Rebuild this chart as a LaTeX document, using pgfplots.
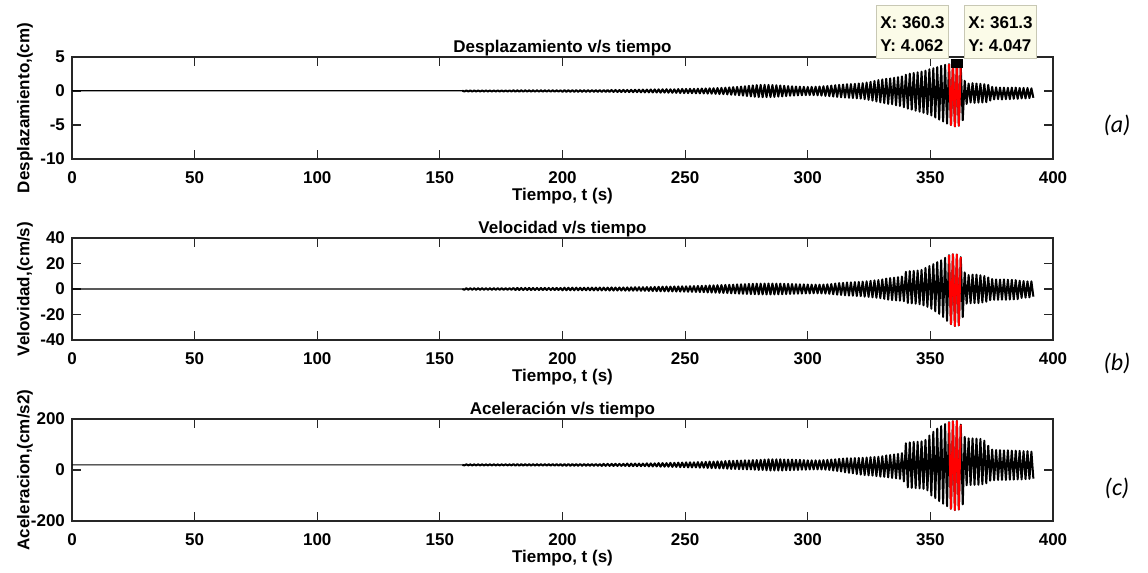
\documentclass[border=0pt]{standalone}
\usepackage{pgfplots}
\pgfplotsset{compat=1.18}
\usepackage{fontspec}
\setmainfont{Liberation Sans}
\newfontfamily\calib{Carlito}
\definecolor{axgray}{HTML}{262626}
\definecolor{tipfill}{HTML}{FBFBE8}
\definecolor{tipedge}{HTML}{C8C8B4}
\newcommand\lbl{\fontsize{8.5}{10}\selectfont\bfseries}

\pgfplotsset{
  every axis title shift=0pt,
  sig/.style={scale only axis, width=490.5pt, height=51pt, anchor=south west,
    xmin=0, xmax=400, xtick={0,50,...,400},
    axis line style={axgray, line width=0.6pt},
    every tick/.style={axgray, line width=0.6pt},
    major tick length=4.5pt, tick align=inside,
    tick label style={font=\lbl, /pgf/number format/assume math mode=true},
    xticklabel style={yshift=-3pt},
    title style={at={(axis description cs:0.5,1)}, anchor=base, yshift=2pt, font=\lbl},
    xlabel style={at={(axis description cs:0.5,0)}, anchor=base, yshift=-21pt, font=\lbl},
    ylabel style={at={(axis description cs:-0.0435,0.5)}, anchor=base, font=\lbl},
    xlabel={Tiempo, t (s)}, scaled ticks=false},
  flat/.style={black, line width=0.6pt, restrict x to domain=0:160.5},
  wave/.style={black, line width=1.0pt, line join=round, restrict x to domain=159:400},
  hot/.style={red, line width=1.0pt, line join=round}
}

\pgfplotstableread[row sep=\\]{
0 0.05\\ 159.2 0.05\\
160.0 -0.08\\ 160.8 0.08\\ 161.6 -0.08\\ 162.4 0.08\\ 163.2 -0.08\\ 164.0 0.08\\ 164.8 -0.08\\ 165.6 0.08\\ 166.4 -0.08\\ 167.2 0.08\\
168.0 -0.08\\ 168.8 0.08\\ 169.6 -0.08\\ 170.4 0.08\\ 171.2 -0.08\\ 172.0 0.08\\ 172.8 -0.08\\ 173.6 0.08\\ 174.4 -0.08\\ 175.2 0.08\\
176.0 -0.08\\ 176.8 0.08\\ 177.6 -0.08\\ 178.4 0.08\\ 179.2 -0.08\\ 180.0 0.1\\ 180.8 -0.1\\ 181.6 0.1\\ 182.4 -0.1\\ 183.2 0.1\\
184.0 -0.1\\ 184.8 0.1\\ 185.6 -0.1\\ 186.4 0.1\\ 187.2 -0.1\\ 188.0 0.1\\ 188.8 -0.1\\ 189.6 0.1\\ 190.4 -0.1\\ 191.2 0.1\\
192.0 -0.1\\ 192.8 0.1\\ 193.6 -0.1\\ 194.4 0.1\\ 195.2 -0.1\\ 196.0 0.1\\ 196.8 -0.1\\ 197.6 0.1\\ 198.4 -0.1\\ 199.2 0.1\\
200.0 -0.12\\ 200.8 0.12\\ 201.6 -0.12\\ 202.4 0.12\\ 203.2 -0.12\\ 204.0 0.12\\ 204.8 -0.12\\ 205.6 0.12\\ 206.4 -0.12\\ 207.2 0.12\\
208.0 -0.12\\ 208.8 0.12\\ 209.6 -0.12\\ 210.4 0.12\\ 211.2 -0.12\\ 212.0 0.13\\ 212.8 -0.13\\ 213.6 0.13\\ 214.4 -0.13\\ 215.2 0.13\\
216.0 -0.14\\ 216.8 0.14\\ 217.6 -0.14\\ 218.4 0.14\\ 219.2 -0.14\\
220.0 0.15\\ 220.8 -0.14\\ 221.6 0.15\\ 222.4 -0.15\\ 223.2 0.14\\
224.0 -0.15\\ 224.8 0.16\\ 225.6 -0.15\\ 226.4 0.15\\ 227.2 -0.16\\
228.0 0.17\\ 228.8 -0.18\\ 229.6 0.18\\ 230.4 -0.17\\ 231.2 0.19\\
232.0 -0.2\\ 232.8 0.2\\ 233.6 -0.21\\ 234.4 0.2\\ 235.2 -0.2\\
236.0 0.22\\ 236.8 -0.22\\ 237.6 0.23\\ 238.4 -0.22\\ 239.2 0.24\\
240.0 -0.25\\ 240.8 0.25\\ 241.6 -0.24\\ 242.4 0.26\\ 243.2 -0.25\\
244.0 0.25\\ 244.8 -0.26\\ 245.6 0.25\\ 246.4 -0.27\\ 247.2 0.28\\
248.0 -0.3\\ 248.8 0.3\\ 249.6 -0.31\\ 250.4 0.3\\ 251.2 -0.32\\
252.0 0.32\\ 252.8 -0.33\\ 253.6 0.32\\ 254.4 -0.34\\ 255.2 0.34\\
256.0 -0.35\\ 256.8 0.36\\ 257.6 -0.36\\ 258.4 0.37\\ 259.2 -0.38\\
260.0 0.4\\ 260.8 -0.4\\ 261.6 0.41\\ 262.4 -0.42\\ 263.2 0.43\\
264.0 -0.45\\ 264.8 0.46\\ 265.6 -0.47\\ 266.4 0.49\\ 267.2 -0.5\\
268.0 0.53\\ 268.8 -0.55\\ 269.6 0.57\\ 270.4 -0.58\\ 271.2 0.6\\
272.0 -0.63\\ 272.8 0.65\\ 273.6 -0.68\\ 274.4 0.7\\ 275.2 -0.74\\
276.0 0.77\\ 276.8 -0.8\\ 277.6 0.82\\ 278.4 -0.85\\ 279.2 0.87\\
280.0 -0.9\\ 280.8 0.9\\ 281.6 -0.92\\ 282.4 0.91\\ 283.2 -0.9\\
284.0 0.9\\ 284.8 -0.89\\ 285.6 0.88\\ 286.4 -0.87\\ 287.2 0.85\\
288.0 -0.83\\ 288.8 0.81\\ 289.6 -0.8\\ 290.4 0.77\\ 291.2 -0.75\\
292.0 0.72\\ 292.8 -0.7\\ 293.6 0.69\\ 294.4 -0.68\\ 295.2 0.66\\
296.0 -0.65\\ 296.8 0.64\\ 297.6 -0.63\\ 298.4 0.62\\ 299.2 -0.61\\
300.0 0.6\\ 300.8 -0.6\\ 301.6 0.61\\ 302.4 -0.62\\ 303.2 0.63\\
304.0 -0.64\\ 304.8 0.66\\ 305.6 -0.68\\ 306.4 0.7\\ 307.2 -0.72\\
308.0 0.74\\ 308.8 -0.77\\ 309.6 0.8\\ 310.4 -0.82\\ 311.2 0.85\\
312.0 -0.88\\ 312.8 0.9\\ 313.6 -0.93\\ 314.4 0.95\\ 315.2 -0.97\\
316.0 1.0\\ 316.8 -1.0\\ 317.6 1.02\\ 318.4 -1.04\\ 319.2 1.06\\
320.0 -1.08\\ 320.8 1.1\\ 321.6 -1.12\\ 322.4 1.15\\ 323.2 -1.2\\
324.0 1.25\\ 324.8 -1.3\\ 325.6 1.35\\ 326.4 -1.4\\ 327.2 1.47\\
328.0 -1.55\\ 328.8 1.6\\ 329.6 -1.67\\ 330.4 1.7\\ 331.2 -1.78\\
332.0 1.8\\ 332.8 -1.9\\ 333.6 1.85\\ 334.4 -1.95\\ 335.2 1.95\\
336.0 -2.1\\ 336.8 2.05\\ 337.6 -2.2\\ 338.4 2.15\\ 339.2 -2.4\\
340.0 2.4\\ 340.8 -2.6\\ 341.6 2.55\\ 342.4 -2.75\\ 343.2 2.65\\
344.0 -2.9\\ 344.8 2.75\\ 345.6 -3.05\\ 346.4 2.85\\ 347.2 -3.2\\
348.0 3.0\\ 348.8 -3.4\\ 349.6 3.2\\ 350.4 -3.6\\ 351.2 3.35\\
352.0 -3.9\\ 352.8 3.5\\ 353.6 -4.2\\ 354.4 3.7\\ 355.2 -4.5\\
356.0 3.85\\ 356.8 -4.8\\ 357.6 3.95\\ 358.4 -5.0\\ 359.2 4.0\\
360.0 -5.2\\ 360.8 4.06\\ 361.6 -5.1\\ 362.4 3.6\\ 363.2 -4.3\\
364.0 1.5\\ 364.8 -1.9\\ 365.6 1.1\\ 366.4 -1.7\\ 367.2 1.15\\
368.0 -1.75\\ 368.8 1.1\\ 369.6 -1.7\\ 370.4 1.05\\ 371.2 -1.7\\
372.0 1.0\\ 372.8 -1.65\\ 373.6 0.9\\ 374.4 -1.4\\ 375.2 0.6\\
376.0 -1.25\\ 376.8 0.55\\ 377.6 -1.2\\ 378.4 0.5\\ 379.2 -1.25\\
380.0 0.5\\ 380.8 -1.2\\ 381.6 0.48\\ 382.4 -1.2\\ 383.2 0.5\\
384.0 -1.15\\ 384.8 0.5\\ 385.6 -1.15\\ 386.4 0.45\\ 387.2 -1.1\\
388.0 0.45\\ 388.8 -1.1\\ 389.6 0.45\\ 390.4 -1.05\\ 391.2 0.4\\
392.0 -1.0\\
}\disp

\pgfplotstableread[row sep=\\]{
357.6 3.95\\ 358.4 -5.0\\ 359.2 4.0\\ 360.0 -5.2\\ 360.8 4.06\\ 361.6 -5.1\\ 362.4 3.6\\
}\disphot

\pgfplotstableread[row sep=\\]{
0 0\\ 159.2 0\\
160.0 -0.6\\ 160.8 0.6\\ 161.6 -0.6\\ 162.4 0.6\\ 163.2 -0.6\\ 164.0 0.6\\ 164.8 -0.6\\ 165.6 0.6\\ 166.4 -0.6\\ 167.2 0.6\\
168.0 -0.6\\ 168.8 0.6\\ 169.6 -0.6\\ 170.4 0.6\\ 171.2 -0.6\\ 172.0 0.6\\ 172.8 -0.6\\ 173.6 0.6\\ 174.4 -0.6\\ 175.2 0.6\\
176.0 -0.6\\ 176.8 0.6\\ 177.6 -0.6\\ 178.4 0.6\\ 179.2 -0.6\\ 180.0 0.8\\ 180.8 -0.8\\ 181.6 0.8\\ 182.4 -0.8\\ 183.2 0.8\\
184.0 -0.8\\ 184.8 0.8\\ 185.6 -0.8\\ 186.4 0.8\\ 187.2 -0.8\\ 188.0 0.8\\ 188.8 -0.8\\ 189.6 0.8\\ 190.4 -0.8\\ 191.2 0.8\\
192.0 -0.8\\ 192.8 0.8\\ 193.6 -0.8\\ 194.4 0.8\\ 195.2 -0.8\\ 196.0 0.8\\ 196.8 -0.8\\ 197.6 0.8\\ 198.4 -0.8\\ 199.2 0.8\\
200.0 -1.0\\ 200.8 1.0\\ 201.6 -1.0\\ 202.4 1.0\\ 203.2 -1.0\\ 204.0 1.0\\ 204.8 -1.0\\ 205.6 1.0\\ 206.4 -1.0\\ 207.2 1.0\\
208.0 -1.0\\ 208.8 1.0\\ 209.6 -1.0\\ 210.4 1.0\\ 211.2 -1.0\\ 212.0 1.1\\ 212.8 -1.1\\ 213.6 1.1\\ 214.4 -1.1\\ 215.2 1.1\\
216.0 -1.1\\ 216.8 1.1\\ 217.6 -1.1\\ 218.4 1.1\\ 219.2 -1.2\\
220.0 1.2\\ 220.8 -1.2\\ 221.6 1.1\\ 222.4 -1.2\\ 223.2 1.2\\
224.0 -1.2\\ 224.8 1.2\\ 225.6 -1.3\\ 226.4 1.2\\ 227.2 -1.3\\
228.0 1.3\\ 228.8 -1.3\\ 229.6 1.4\\ 230.4 -1.3\\ 231.2 1.4\\
232.0 -1.4\\ 232.8 1.4\\ 233.6 -1.4\\ 234.4 1.5\\ 235.2 -1.5\\
236.0 1.5\\ 236.8 -1.6\\ 237.6 1.6\\ 238.4 -1.7\\ 239.2 1.7\\
240.0 -1.8\\ 240.8 1.8\\ 241.6 -1.8\\ 242.4 1.9\\ 243.2 -1.9\\
244.0 1.9\\ 244.8 -1.9\\ 245.6 2.0\\ 246.4 -2.0\\ 247.2 2.0\\
248.0 -2.0\\ 248.8 2.1\\ 249.6 -2.1\\ 250.4 2.1\\ 251.2 -2.2\\
252.0 2.2\\ 252.8 -2.2\\ 253.6 2.3\\ 254.4 -2.3\\ 255.2 2.4\\
256.0 -2.4\\ 256.8 2.5\\ 257.6 -2.5\\ 258.4 2.6\\ 259.2 -2.7\\
260.0 2.8\\ 260.8 -2.8\\ 261.6 2.9\\ 262.4 -2.9\\ 263.2 3.0\\
264.0 -3.0\\ 264.8 3.1\\ 265.6 -3.1\\ 266.4 3.2\\ 267.2 -3.2\\
268.0 3.3\\ 268.8 -3.4\\ 269.6 3.4\\ 270.4 -3.5\\ 271.2 3.6\\
272.0 -3.7\\ 272.8 3.7\\ 273.6 -3.8\\ 274.4 3.8\\ 275.2 -3.9\\
276.0 4.0\\ 276.8 -4.0\\ 277.6 4.1\\ 278.4 -4.1\\ 279.2 4.2\\
280.0 -4.2\\ 280.8 4.2\\ 281.6 -4.3\\ 282.4 4.3\\ 283.2 -4.3\\
284.0 4.3\\ 284.8 -4.3\\ 285.6 4.3\\ 286.4 -4.3\\ 287.2 4.2\\
288.0 -4.2\\ 288.8 4.2\\ 289.6 -4.1\\ 290.4 4.1\\ 291.2 -4.0\\
292.0 4.0\\ 292.8 -3.9\\ 293.6 3.9\\ 294.4 -3.8\\ 295.2 3.8\\
296.0 -3.7\\ 296.8 3.7\\ 297.6 -3.6\\ 298.4 3.6\\ 299.2 -3.5\\
300.0 3.5\\ 300.8 -3.5\\ 301.6 3.4\\ 302.4 -3.4\\ 303.2 3.4\\
304.0 -3.4\\ 304.8 3.4\\ 305.6 -3.5\\ 306.4 3.5\\ 307.2 -3.6\\
308.0 3.7\\ 308.8 -3.8\\ 309.6 3.9\\ 310.4 -4.1\\ 311.2 4.3\\
312.0 -4.5\\ 312.8 4.6\\ 313.6 -4.7\\ 314.4 4.8\\ 315.2 -5.0\\
316.0 5.1\\ 316.8 -5.2\\ 317.6 5.2\\ 318.4 -5.3\\ 319.2 5.4\\
320.0 -5.5\\ 320.8 5.5\\ 321.6 -5.6\\ 322.4 5.8\\ 323.2 -6.0\\
324.0 6.1\\ 324.8 -6.2\\ 325.6 6.4\\ 326.4 -6.5\\ 327.2 6.7\\
328.0 -6.9\\ 328.8 7.0\\ 329.6 -7.2\\ 330.4 7.5\\ 331.2 -7.8\\
332.0 8.2\\ 332.8 -8.4\\ 333.6 8.6\\ 334.4 -8.7\\ 335.2 8.9\\
336.0 -9.0\\ 336.8 9.3\\ 337.6 -9.2\\ 338.4 9.8\\ 339.2 -9.6\\
340.0 13.5\\ 340.8 -11.0\\ 341.6 14.0\\ 342.4 -11.2\\ 343.2 14.2\\
344.0 -11.5\\ 344.8 14.5\\ 345.6 -12.0\\ 346.4 15.0\\ 347.2 -12.8\\
348.0 16.5\\ 348.8 -14.0\\ 349.6 18.0\\ 350.4 -15.5\\ 351.2 19.5\\
352.0 -17.5\\ 352.8 21.0\\ 353.6 -19.5\\ 354.4 22.5\\ 355.2 -22.0\\
356.0 24.5\\ 356.8 -25.0\\ 357.6 26.5\\ 358.4 -27.5\\ 359.2 27.2\\
360.0 -29.0\\ 360.8 27.0\\ 361.6 -28.5\\ 362.4 25.0\\ 363.2 -22.0\\
364.0 13.0\\ 364.8 -11.5\\ 365.6 11.0\\ 366.4 -11.2\\ 367.2 11.3\\
368.0 -11.0\\ 368.8 11.2\\ 369.6 -11.1\\ 370.4 10.8\\ 371.2 -10.5\\
372.0 10.2\\ 372.8 -10.0\\ 373.6 9.0\\ 374.4 -8.8\\ 375.2 7.8\\
376.0 -8.5\\ 376.8 7.5\\ 377.6 -8.5\\ 378.4 7.4\\ 379.2 -8.4\\
380.0 7.5\\ 380.8 -8.5\\ 381.6 7.3\\ 382.4 -8.3\\ 383.2 7.2\\
384.0 -8.2\\ 384.8 7.0\\ 385.6 -8.0\\ 386.4 6.5\\ 387.2 -7.0\\
388.0 6.2\\ 388.8 -6.8\\ 389.6 6.0\\ 390.4 -6.6\\ 391.2 6.0\\
392.0 -6.0\\
}\velo

\pgfplotstableread[row sep=\\]{
357.6 26.5\\ 358.4 -27.5\\ 359.2 27.2\\ 360.0 -29.0\\ 360.8 27.0\\ 361.6 -28.5\\ 362.4 25.0\\
}\velohot

\pgfplotstableread[row sep=\\]{
0 20\\ 159.2 20\\
160.0 18\\ 160.8 22\\ 161.6 18\\ 162.4 22\\ 163.2 18\\ 164.0 22\\ 164.8 18\\ 165.6 22\\ 166.4 18\\ 167.2 22\\
168.0 18\\ 168.8 22\\ 169.6 18\\ 170.4 22\\ 171.2 18\\ 172.0 22\\ 172.8 18\\ 173.6 22\\ 174.4 18\\ 175.2 22\\
176.0 18\\ 176.8 22\\ 177.6 18\\ 178.4 22\\ 179.2 18\\ 180.0 23\\ 180.8 17\\ 181.6 23\\ 182.4 17\\ 183.2 23\\
184.0 17\\ 184.8 23\\ 185.6 17\\ 186.4 23\\ 187.2 17\\ 188.0 23\\ 188.8 17\\ 189.6 23\\ 190.4 17\\ 191.2 23\\
192.0 17\\ 192.8 23\\ 193.6 17\\ 194.4 23\\ 195.2 17\\ 196.0 23\\ 196.8 17\\ 197.6 23\\ 198.4 17\\ 199.2 23\\
200.0 16.5\\ 200.8 23.5\\ 201.6 16.5\\ 202.4 23.5\\ 203.2 16.5\\ 204.0 23.5\\ 204.8 16.5\\ 205.6 23.5\\ 206.4 16.5\\ 207.2 23.5\\
208.0 16.5\\ 208.8 23.5\\ 209.6 16.5\\ 210.4 23.5\\ 211.2 16.5\\ 212.0 23.5\\ 212.8 16.5\\ 213.6 23.5\\ 214.4 16.5\\ 215.2 23.5\\
216.0 16\\ 216.8 24\\ 217.6 16\\ 218.4 24\\ 219.2 16\\
220.0 24\\ 220.8 16\\ 221.6 24\\ 222.4 16\\ 223.2 24\\
224.0 16\\ 224.8 24\\ 225.6 16\\ 226.4 25\\ 227.2 15\\
228.0 25\\ 228.8 15\\ 229.6 25\\ 230.4 15\\ 231.2 25\\
232.0 15\\ 232.8 25\\ 233.6 15\\ 234.4 26\\ 235.2 14\\
236.0 26\\ 236.8 14\\ 237.6 26\\ 238.4 14\\ 239.2 27\\
240.0 13\\ 240.8 27\\ 241.6 13\\ 242.4 27\\ 243.2 13\\
244.0 28\\ 244.8 12\\ 245.6 28\\ 246.4 12\\ 247.2 29\\
248.0 11\\ 248.8 29\\ 249.6 11\\ 250.4 30\\ 251.2 10\\
252.0 30\\ 252.8 10\\ 253.6 30\\ 254.4 10\\ 255.2 31\\
256.0 9\\ 256.8 31\\ 257.6 9\\ 258.4 32\\ 259.2 8\\
260.0 33\\ 260.8 7\\ 261.6 33\\ 262.4 7\\ 263.2 34\\
264.0 6\\ 264.8 34\\ 265.6 6\\ 266.4 35\\ 267.2 5\\
268.0 36\\ 268.8 4\\ 269.6 36\\ 270.4 4\\ 271.2 37\\
272.0 3\\ 272.8 37\\ 273.6 3\\ 274.4 38\\ 275.2 2\\
276.0 38\\ 276.8 2\\ 277.6 39\\ 278.4 1\\ 279.2 39\\
280.0 0\\ 280.8 40\\ 281.6 0\\ 282.4 41\\ 283.2 -1\\
284.0 42\\ 284.8 -2\\ 285.6 42\\ 286.4 -2\\ 287.2 42\\
288.0 -2\\ 288.8 42\\ 289.6 -2\\ 290.4 41\\ 291.2 -1\\
292.0 41\\ 292.8 -1\\ 293.6 41\\ 294.4 0\\ 295.2 40\\
296.0 0\\ 296.8 40\\ 297.6 1\\ 298.4 39\\ 299.2 1\\
300.0 38\\ 300.8 2\\ 301.6 38\\ 302.4 2\\ 303.2 38\\
304.0 2\\ 304.8 38\\ 305.6 2\\ 306.4 39\\ 307.2 1\\
308.0 40\\ 308.8 0\\ 309.6 41\\ 310.4 -2\\ 311.2 42\\
312.0 -4\\ 312.8 44\\ 313.6 -6\\ 314.4 45\\ 315.2 -9\\
316.0 46\\ 316.8 -11\\ 317.6 46\\ 318.4 -13\\ 319.2 47\\
320.0 -16\\ 320.8 47\\ 321.6 -18\\ 322.4 48\\ 323.2 -20\\
324.0 49\\ 324.8 -21\\ 325.6 50\\ 326.4 -22\\ 327.2 51\\
328.0 -24\\ 328.8 52\\ 329.6 -26\\ 330.4 54\\ 331.2 -27\\
332.0 57\\ 332.8 -29\\ 333.6 59\\ 334.4 -31\\ 335.2 61\\
336.0 -33\\ 336.8 63\\ 337.6 -35\\ 338.4 66\\ 339.2 -45\\
340.0 105\\ 340.8 -68\\ 341.6 108\\ 342.4 -70\\ 343.2 110\\
344.0 -71\\ 344.8 111\\ 345.6 -72\\ 346.4 112\\ 347.2 -74\\
348.0 118\\ 348.8 -80\\ 349.6 135\\ 350.4 -100\\ 351.2 150\\
352.0 -110\\ 352.8 162\\ 353.6 -122\\ 354.4 172\\ 355.2 -132\\
356.0 180\\ 356.8 -142\\ 357.6 188\\ 358.4 -152\\ 359.2 191\\
360.0 -157\\ 360.8 192\\ 361.6 -155\\ 362.4 178\\ 363.2 -135\\
364.0 130\\ 364.8 -60\\ 365.6 124\\ 366.4 -59\\ 367.2 124\\
368.0 -58\\ 368.8 123\\ 369.6 -58\\ 370.4 122\\ 371.2 -56\\
372.0 115\\ 372.8 -52\\ 373.6 95\\ 374.4 -42\\ 375.2 80\\
376.0 -40\\ 376.8 78\\ 377.6 -39\\ 378.4 78\\ 379.2 -39\\
380.0 77\\ 380.8 -39\\ 381.6 77\\ 382.4 -38\\ 383.2 76\\
384.0 -38\\ 384.8 76\\ 385.6 -37\\ 386.4 75\\ 387.2 -37\\
388.0 74\\ 388.8 -36\\ 389.6 74\\ 390.4 -35\\ 391.2 72\\
392.0 -34\\
}\acel

\pgfplotstableread[row sep=\\]{
357.6 188\\ 358.4 -152\\ 359.2 191\\ 360.0 -157\\ 360.8 192\\ 361.6 -155\\ 362.4 178\\
}\acelhot

\begin{document}
\begin{tikzpicture}
\useasboundingbox (0,0) rectangle (574pt,286.5pt);

\begin{axis}[sig, at={(36pt,207pt)}, ymin=-10, ymax=5, ytick={-10,-5,0,5},
    title={Desplazamiento v/s tiempo}, ylabel={Desplazamiento,(cm)}]
  \addplot[flat] table {\disp};
  \addplot[wave] table {\disp};
  \addplot[hot] table {\disphot};
  \addplot[only marks, mark=square*, mark size=2.2pt, black] coordinates {(360.3,4.062) (361.3,4.047)};
\end{axis}

\begin{axis}[sig, at={(36pt,116.5pt)}, ymin=-40, ymax=40, ytick={-40,-20,0,20,40},
    title={Velocidad v/s tiempo}, ylabel={Velovidad,(cm/s)}]
  \addplot[flat] table {\velo};
  \addplot[wave] table {\velo};
  \addplot[hot] table {\velohot};
\end{axis}

\begin{axis}[sig, at={(36pt,26pt)}, ymin=-200, ymax=200, ytick={-200,0,200},
    title={Aceleración v/s tiempo}, ylabel={Aceleracion,(cm/s2)}]
  \addplot[flat] table {\acel};
  \addplot[wave] table {\acel};
  \addplot[hot] table {\acelhot};
\end{axis}

% data tips
\filldraw[fill=tipfill, draw=tipedge, line width=0.3pt] (438pt,257.5pt) rectangle (474pt,284pt);
\filldraw[fill=tipfill, draw=tipedge, line width=0.3pt] (482pt,257.5pt) rectangle (518pt,284pt);
\node[font=\lbl, anchor=base west, inner sep=0pt] at (440pt,272pt) {X: 360.3};
\node[font=\lbl, anchor=base west, inner sep=0pt] at (440pt,260.5pt) {Y: 4.062};
\node[font=\lbl, anchor=base west, inner sep=0pt] at (484pt,272pt) {X: 361.3};
\node[font=\lbl, anchor=base west, inner sep=0pt] at (484pt,260.5pt) {Y: 4.047};

% panel letters
\node[font=\calib\itshape\fontsize{12}{14}\selectfont] at (558.5pt,224pt) {(a)};
\node[font=\calib\itshape\fontsize{12}{14}\selectfont] at (558.5pt,105pt) {(b)};
\node[font=\calib\itshape\fontsize{12}{14}\selectfont] at (558.5pt,42.5pt) {(c)};
\end{tikzpicture}
\end{document}
